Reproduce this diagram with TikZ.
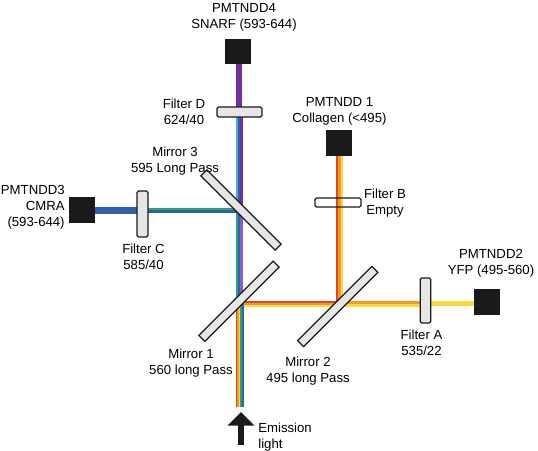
\documentclass[tikz,border=0pt]{standalone}
\usepackage{fontspec}
\setmainfont{Liberation Sans}
\usepackage{xcolor}
\usetikzlibrary{arrows.meta,backgrounds}
\definecolor{ink}{HTML}{1A1A1A}
\definecolor{glassgray}{HTML}{E6E6E6}
\definecolor{rayred}{HTML}{E0452A}
\definecolor{rayorange}{HTML}{F59A23}
\definecolor{rayyellow}{HTML}{F7DC3A}
\definecolor{raygreen}{HTML}{2BA56A}
\definecolor{rayblue}{HTML}{2F5FAE}
\definecolor{raysky}{HTML}{58A6CF}
\definecolor{raypurple}{HTML}{7030A0}
\definecolor{raylilac}{HTML}{8A5CC8}
\tikzset{
  detector/.style={fill=ink,minimum size=0.51cm,inner sep=0pt,outer sep=0pt},
  filterbox/.style={draw=ink,fill=glassgray,line width=0.024cm,rounded corners=0.03cm,
                    inner sep=0pt,outer sep=0pt},
  mirror/.style={draw=ink,fill=glassgray,line width=0.024cm,inner sep=0pt,outer sep=0pt,
                 minimum width=2.1cm,minimum height=0.17cm},
  partlabel/.style={align=center,font=\fontsize{7.5pt}{9.1pt}\selectfont,inner sep=0pt},
  vstripe/.style 2 args={draw=#1,line width=0.05cm,transform canvas={xshift=#2cm}},
  hstripe/.style 2 args={draw=#1,line width=0.05cm,transform canvas={yshift=#2cm}},
  solidray/.style={line width=0.13cm},
  lightarr/.style={-{Triangle[length=0.27cm,width=0.52cm]},line width=0.12cm,color=ink}
}
\begin{document}
\begin{tikzpicture}[x=1cm,y=1cm]
  \useasboundingbox (0,0) rectangle (10.76,9);
  % detectors
  \node[detector] (pmt4) at (4.76,7.97) {};
  \node[detector] (pmt1) at (6.78,6.14) {};
  \node[detector] (pmt2) at (9.74,2.96) {};
  \node[detector] (pmt3) at (1.64,4.80) {};
  % filters
  \node[filterbox,minimum width=0.90cm,minimum height=0.20cm] (filtd) at (4.79,6.76) {};
  \node[filterbox,fill=none,minimum width=0.92cm,minimum height=0.18cm] (filtb) at (6.76,4.95) {};
  \node[filterbox,minimum width=0.21cm,minimum height=0.90cm] (filta) at (8.51,2.99) {};
  \node[filterbox,minimum width=0.22cm,minimum height=0.92cm] (filtc) at (2.85,4.72) {};
  % mirrors
  \node[mirror,rotate=-45] (mir3) at (4.82,4.80) {};
  \node[mirror,rotate=45] (mir1) at (4.78,2.975) {};
  \node[mirror,rotate=45] (mir2) at (6.755,2.87) {};
  % points where the light meets the mirrors
  \coordinate (hit3) at (4.78,4.79);
  \coordinate (hit1) at (4.78,2.92);
  \coordinate (hit2) at (6.79,2.92);
  \coordinate (emit) at (4.80,0.86);
  \coordinate (tail) at (4.82,0.10);
  \coordinate (tip) at (4.82,0.76);
  % light
  \begin{pgfonlayer}{background}
    \draw[solidray,raypurple] (pmt4.center -| hit1) -- (filtd.center -| hit1);
    \foreach \c/\o in {raysky/-0.045,rayblue/0,raypurple/0.045}
      \draw[vstripe={\c}{\o}] (filtd.center -| hit1) -- (hit3);
    \foreach \c/\o in {raygreen/-0.045,rayblue/0,raylilac/0.045}
      \draw[vstripe={\c}{\o}] (hit3) -- (hit1);
    \draw[solidray,rayblue] (pmt3.center |- hit3) -- (filtc.center |- hit3);
    \foreach \c/\o in {raygreen/0.03,rayblue/-0.02}
      \draw[hstripe={\c}{\o}] (filtc.center |- hit3) -- (hit3);
    \foreach \c/\o in {rayred/0.038,rayorange/0,rayyellow/-0.038}
      \draw[hstripe={\c}{\o}] (hit1) -- (hit2);
    \foreach \c/\o in {rayorange/0.026,rayyellow/-0.026}
      \draw[hstripe={\c}{\o}] (hit2) -- (filta.center |- hit2);
    \draw[rayyellow,line width=0.10cm] (filta.center |- hit2) -- (pmt2.center |- hit2);
    \foreach \c/\o in {rayred/-0.05,rayorange/0,rayyellow/0.05}
      \draw[vstripe={\c}{\o}] (hit2) -- (pmt1.center -| hit2);
    \foreach \c/\o in {rayred/-0.06,rayorange/-0.035,rayyellow/-0.005,raygreen/0.03,rayblue/0.06}
      \draw[vstripe={\c}{\o}] (emit) -- (emit |- hit1);
  \end{pgfonlayer}
  \draw[lightarr] (tail) -- (tip);
  % labels
  \node[partlabel] (lbl4) at (4.88,8.66) {PMTNDD4\\SNARF (593-644)};
  \node[partlabel] (lbld) at (3.68,6.76) {Filter D\\624/40};
  \node[partlabel] (lblm3) at (3.50,5.78) {Mirror 3\\595 Long Pass};
  \node[partlabel] (lbl1) at (6.79,6.78) {PMTNDD 1\\Collagen (<495)};
  \node[partlabel] (lblb) at (7.70,4.93) {Filter B\\Empty};
  \node[partlabel,align=right,anchor=east] (lbl3) at (1.30,4.85) {PMTNDD3\\CMRA\\(593-644)};
  \node[partlabel] (lblc) at (2.87,3.86) {Filter C\\585/40};
  \node[partlabel] (lbl2) at (9.82,3.74) {PMTNDD2\\YFP (495-560)};
  \node[partlabel] (lbla) at (8.43,2.14) {Filter A\\535/22};
  \node[partlabel] (lblm2) at (6.16,1.58) {Mirror 2\\495 long Pass};
  \node[partlabel] (lblm1) at (3.82,1.74) {Mirror 1\\560 long Pass};
  \node[partlabel,align=left,anchor=west] (lble) at (5.16,0.26) {Emission\\light};
\end{tikzpicture}
\end{document}
